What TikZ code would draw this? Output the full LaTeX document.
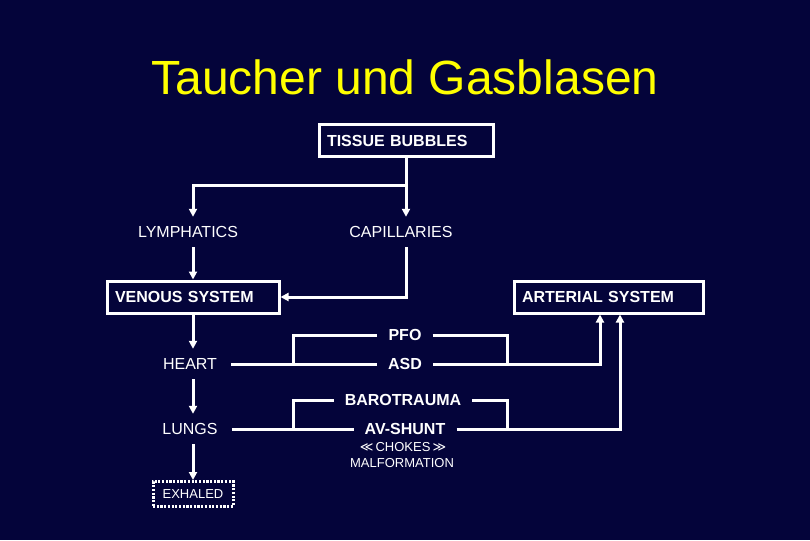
\documentclass[tikz,border=0pt]{standalone}
\usepackage{fontspec}
\setmainfont{Liberation Sans}
\newfontfamily\dvfont{DejaVu Sans}
\usetikzlibrary{arrows.meta}
\definecolor{bgnavy}{RGB}{4,4,58}
\definecolor{titleyellow}{RGB}{255,255,0}
\tikzset{
  conn/.style={white, line width=3pt},
  arr/.style={conn, -{Triangle[width=8pt,length=8pt]}},
  lbl/.style={white, font=\fontsize{16}{16}\selectfont, inner xsep=14pt, inner ysep=0pt,
    text height=11.5pt, text depth=0pt, minimum height=30pt},
  mid/.style={white, font=\fontsize{16}{16}\selectfont\bfseries, inner xsep=11pt, inner ysep=0pt,
    text height=11.5pt, text depth=0pt},
  sysbox/.style={draw=white, line width=3pt, white, font=\fontsize{16}{16}\selectfont\bfseries,
    inner xsep=8pt, inner ysep=0pt, minimum height=32pt, text height=11.5pt, text depth=0pt, align=left},
  small/.style={white, font=\fontsize{13}{13}\selectfont, inner sep=0pt}
}
\begin{document}
\begin{tikzpicture}[x=1pt,y=-1pt]
\fill[bgnavy] (0,0) rectangle (810,540);
\useasboundingbox (0,0) rectangle (810,540);

\node[titleyellow, font=\fontsize{48}{48}\selectfont, anchor=base] (title) at (405,95) {Taucher und Gasblasen};

\node[sysbox, text width=158pt] (tis) at (406,141) {TISSUE BUBBLES};
\node[lbl] (lym) at (188,232) {LYMPHATICS};
\node[lbl] (cap) at (401,232) {CAPILLARIES};
\node[sysbox, text width=156pt] (ven) at (193,297) {VENOUS SYSTEM};
\node[sysbox, text width=173pt] (art) at (608.5,297) {ARTERIAL SYSTEM};
\node[lbl] (heart) at (190,364) {HEART};
\node[lbl] (lungs) at (190,429) {LUNGS};
\node[mid] (pfo) at (405,335) {PFO};
\node[mid] (asd) at (405,364) {ASD};
\node[mid] (baro) at (403,400) {BAROTRAUMA};
\node[mid] (av) at (405,429) {AV-SHUNT};
\node[small] (chokes) at (403,447) {{\dvfont ≪}\,CHOKES\,{\dvfont ≫}};
\node[small] (malf) at (402,463) {MALFORMATION};
\node[draw=white, line width=3pt, dash pattern=on 2.2pt off 1.5pt, white,
  font=\fontsize{13}{13}\selectfont, minimum width=80pt, minimum height=25pt, inner sep=0pt] (exh) at (193,494) {EXHALED};

\coordinate (colL) at (193,0);
\coordinate (colB) at (293,0);
\coordinate (colD) at (507,0);
\coordinate (colA1) at (600,0);
\coordinate (colA2) at (620,0);
\coordinate (r1) at (0,185);

\draw[arr] (tis.south) -- (tis.south |- r1) -| (lym.north -| colL);
\draw[arr] (tis.south |- r1) -- (cap.north -| tis.south);
\draw[arr] (lym.south -| colL) -- (ven.north -| colL);
\draw[arr] (cap.south -| tis.south) |- (ven.east);
\draw[arr] (ven.south -| colL) -- (heart.north -| colL);
\draw[arr] (heart.south -| colL) -- (lungs.north -| colL);
\draw[arr] (lungs.south -| colL) -- (exh.north);

\draw[conn] (heart.east) -- (asd.west);
\draw[arr] (asd.east) -| (art.south -| colA1);
\draw[conn] (heart.east -| colB) |- (pfo.west);
\draw[conn] (pfo.east) -| (asd.east -| colD);

\draw[conn] (lungs.east) -- (av.west);
\draw[arr] (av.east) -| (art.south -| colA2);
\draw[conn] (lungs.east -| colB) |- (baro.west);
\draw[conn] (baro.east) -| (av.east -| colD);
\end{tikzpicture}
\end{document}
